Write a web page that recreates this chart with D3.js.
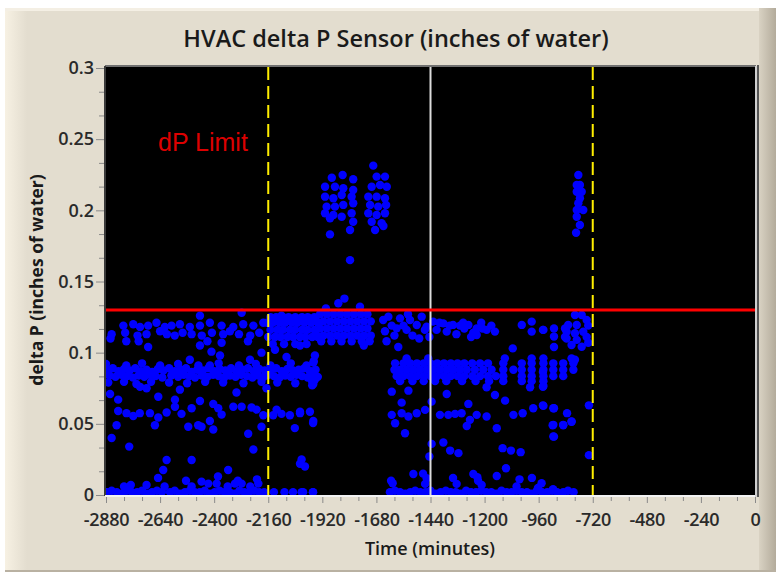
<!DOCTYPE html>
<html lang="en">
<head>
<meta charset="utf-8">
<title>HVAC delta P Sensor</title>
<script src="https://d3js.org/d3.v7.min.js"></script>
<style>
  body { margin: 0; background: #ffffff; }
  svg text { font-family: "Open Sans", "Liberation Sans", sans-serif; }
</style>
</head>
<body>
<script>
// ---- chart values ----
const xTicks = [-2880, -2640, -2400, -2160, -1920, -1680, -1440, -1200, -960, -720, -480, -240, 0];
const yTicks = [0, 0.05, 0.1, 0.15, 0.2, 0.25, 0.3];
const yTickLabels = ["0", "0.05", "0.1", "0.15", "0.2", "0.25", "0.3"];
const limitValue = 0.13;
const limitLabel = "dP Limit";
const dashedMarkers = [-2160, -720];
const solidMarkers = [-1440];

// readings near zero, west part (minutes, inches of water)
const westBase = [
  [-2875,.002],[-2855,.003],[-2832,.002],[-2810,.001],[-2788,.003],[-2765,.002],[-2742,.002],[-2720,.003],
  [-2698,.001],[-2676,.002],[-2654,.003],[-2632,.002],[-2596,.002],[-2575,.003],[-2552,.001],[-2530,.002],
  [-2508,.003],[-2486,.002],[-2464,.002],[-2442,.003],[-2420,.001],[-2398,.002],[-2376,.003],[-2354,.002],
  [-2332,.002],[-2310,.001],[-2288,.003],[-2266,.002],[-2244,.002],[-2222,.003],[-2200,.002],[-2178,.002],
  [-2135,.002],[-2088,.002],[-2050,.002],[-2005,.002],[-1962,.002],
  [-2800,.006],[-2770,.007],[-2700,.007],[-2649,.012],[-2620,.006],[-2525,.010],[-2500,.006],[-2456,.0094],
  [-2426,.008],[-2389,.008],[-2383,.013],[-2340,.006],[-2308,.008],[-2295,.010],[-2278,.008],[-2240,.006],
  [-2210,.011],[-2204,.008]
];
// steady band around 0.085, west part
const westMid = [
  [-2875,.0880],[-2850,.0890],[-2825,.0870],[-2800,.0885],[-2775,.0875],[-2750,.0890],[-2725,.0870],[-2700,.0880],
  [-2675,.0865],[-2650,.0885],[-2625,.0875],[-2600,.0890],[-2575,.0870],[-2550,.0880],[-2525,.0890],[-2500,.0865],
  [-2475,.0880],[-2450,.0875],[-2425,.0890],[-2400,.0870],[-2375,.0885],[-2350,.0875],[-2325,.0890],[-2300,.0870],
  [-2275,.0880],[-2250,.0890],[-2225,.0870],[-2200,.0885],[-2175,.0875],[-2150,.0880],[-2125,.0890],[-2100,.0870],
  [-2075,.0885],[-2050,.0875],[-2025,.0880],[-2000,.0890],[-1975,.0870],[-1950,.0880],
  [-2865,.0840],[-2838,.0830],[-2812,.0845],[-2785,.0835],[-2760,.0825],[-2735,.0840],[-2710,.0830],[-2685,.0845],
  [-2660,.0835],[-2630,.0825],[-2590,.0840],[-2560,.0830],[-2535,.0845],[-2510,.0835],[-2485,.0825],[-2455,.0840],
  [-2430,.0830],[-2405,.0845],[-2380,.0835],[-2355,.0825],[-2330,.0840],[-2305,.0830],[-2280,.0845],[-2255,.0835],
  [-2230,.0825],[-2205,.0840],[-2180,.0830],[-2160,.0845],[-2135,.0835],[-2110,.0825],[-2085,.0840],[-2060,.0830],
  [-2035,.0845],[-2010,.0835],[-1985,.0825],[-1960,.0840],[-1940,.0830],
  [-2880,.092],[-2790,.091],[-2720,.0925],[-2640,.091],[-2560,.092],[-2470,.091],[-2380,.0925],[-2290,.091],
  [-2215,.092],[-2150,.091],[-2060,.0925],[-1990,.091],
  [-2870,.079],[-2800,.0795],[-2745,.078],[-2680,.0795],[-2600,.079],[-2520,.0785],[-2440,.0795],[-2360,.079],
  [-2270,.0785],[-2190,.0795],[-2120,.079],[-2040,.0785],[-1965,.0795],
  [-2412,.1007],[-2190,.100],[-2374,.098],[-2508,.095],[-2241,.095],[-2079,.097],[-2419,.091],[-1960,.093],[-2130,.102]
];
// band around 0.115, west part
const westHigh = [
  [-2803,.119],[-2759,.120],[-2729,.118],[-2693,.119],[-2656,.121],[-2619,.118],[-2589,.119],[-2552,.120],
  [-2508,.118],[-2463,.119],[-2419,.121],[-2367,.119],[-2315,.118],[-2271,.120],[-2226,.119],[-2182,.121],
  [-2855,.113],[-2795,.114],[-2740,.112],[-2700,.113],[-2640,.115],[-2610,.113],[-2575,.112],[-2540,.114],
  [-2500,.113],[-2455,.112],[-2410,.114],[-2360,.113],[-2330,.115],[-2290,.113],[-2240,.112],[-2200,.114],
  [-2860,.110],[-2790,.108],[-2735,.108],[-2693,.104],[-2463,.105],[-2430,.108],[-2367,.107],[-2250,.108],
  [-2463,.126],[-2278,.128],[-2101,.126],
  [-2150,.125],[-2125,.125],[-2095,.125],[-2070,.125],[-2040,.125],[-2010,.125],[-1985,.125],[-1955,.125],
  [-2165,.121],[-2140,.121],[-2110,.121],[-2085,.121],[-2055,.121],[-2030,.121],[-2000,.121],[-1970,.121],[-1940,.121],
  [-2150,.116],[-2120,.116],[-2095,.116],[-2065,.116],[-2040,.116],[-2010,.116],[-1985,.116],[-1955,.116],
  [-2160,.111],[-2130,.111],[-2105,.111],[-2075,.111],[-2050,.111],[-2020,.111],[-1995,.111],[-1965,.111],[-1940,.111],
  [-2140,.106],[-2090,.106],[-2040,.106],[-1990,.106]
];
// scattered low readings, west part
const westScatter = [
  [-2862,.071],[-2826,.067],[-2648,.069],[-2574,.067],[-2463,.066],[-2404,.064],[-2301,.072],[-2168,.075],[-1960,.078],
  [-2729,.076],[-2700,.075],[-2552,.074],
  [-2826,.059],[-2789,.0575],[-2759,.0555],[-2730,.0575],[-2685,.0575],[-2648,.0545],[-2611,.058],[-2574,.062],
  [-2545,.057],[-2500,.061],[-2382,.061],[-2367,.0565],[-2315,.062],[-2278,.062],[-2234,.0615],[-2212,.060],
  [-2182,.056],[-2138,.056],[-2123,.060],[-2101,.057],[-2064,.056],[-2019,.0575],[-1975,.0585],
  [-2833,.049],[-2663,.049],[-2515,.048],[-2471,.049],[-2456,.048],[-2419,.052],[-2404,.046],[-2249,.043],
  [-2190,.048],[-2042,.047],[-1960,.052],
  [-2855,.040],[-2777,.034],[-2226,.032],[-2611,.0246],[-2500,.0246],[-2019,.022],[-1997,.020],[-2626,.0176],[-2338,.0176],
  [-1953,.098],[-1958,.094],[-1975,.087],[-1953,.081],[-1965,.077],
  [-2019,.0585],[-1961,.0505],[-2012,.025],[-2012,.002],[-1961,.002]
];
// dense block just under the limit, -1940 to -1700
const plateau = [
  [-1930,.127],[-1900,.127],[-1870,.127],[-1840,.127],[-1810,.127],[-1780,.127],[-1750,.127],[-1720,.127],
  [-1945,.122],[-1915,.122],[-1885,.122],[-1855,.122],[-1825,.122],[-1795,.122],[-1765,.122],[-1735,.122],[-1705,.122],
  [-1930,.117],[-1900,.117],[-1870,.117],[-1840,.117],[-1810,.117],[-1780,.117],[-1750,.117],[-1720,.117],
  [-1945,.112],[-1915,.112],[-1885,.112],[-1855,.112],[-1825,.112],[-1795,.112],[-1765,.112],[-1735,.112],[-1705,.112],
  [-1925,.108],[-1880,.108],[-1835,.108],[-1790,.108],[-1745,.108],[-1710,.108],
  [-1849,.1347],[-1822,.138],[-1753,.1323],[-1904,.131],[-2019,.105],[-1736,.105]
];
// peaks above the limit
const spikes = [
  [-1878,.2229],[-1830,.2248],[-1783,.2218],[-1908,.2166],[-1864,.2166],[-1827,.2155],[-1783,.2143],
  [-1908,.2096],[-1871,.2085],[-1834,.2108],[-1790,.2096],[-1901,.2026],[-1864,.2026],[-1827,.2038],[-1783,.205],
  [-1908,.198],[-1871,.1967],[-1834,.1955],[-1790,.198],[-1783,.192],[-1886,.1944],[-1797,.1862],[-1886,.1831],
  [-1797,.165],
  [-1694,.2314],[-1679,.2237],[-1642,.2237],[-1701,.2166],[-1664,.2178],[-1634,.2166],[-1716,.2096],[-1679,.2096],
  [-1642,.2085],[-1708,.2038],[-1672,.2026],[-1637,.2038],[-1716,.198],[-1679,.1967],[-1642,.198],[-1701,.192],
  [-1657,.191],[-1686,.1862],[-1649,.189],
  [-784,.2248],[-777,.2178],[-791,.2178],[-791,.2131],[-769,.2131],[-777,.2085],[-784,.205],[-791,.2002],
  [-762,.2002],[-791,.1955],[-777,.1897],[-794,.1843]
];
// readings near zero, east part
const eastBase = [
  [-1620,.002],[-1598,.003],[-1575,.002],[-1552,.001],[-1530,.002],[-1508,.003],[-1485,.002],[-1462,.002],
  [-1440,.003],[-1418,.001],[-1395,.002],[-1372,.003],[-1350,.002],[-1328,.002],[-1305,.001],[-1282,.003],
  [-1260,.002],[-1238,.002],[-1215,.003],[-1192,.002],[-1170,.002],[-1148,.001],[-1125,.003],[-1102,.002],
  [-1080,.002],[-1058,.003],[-1035,.002],[-1012,.002],[-990,.001],[-968,.003],[-945,.002],[-922,.002],
  [-900,.003],[-878,.002],[-851,.002],[-830,.003],[-805,.002],
  [-1615,.010],[-1608,.0083],[-1473,.015],[-1464,.0078],[-1340,.012],[-1324,.0078],[-1229,.010],[-1213,.0071],
  [-1058,.006],[-1045,.011],[-990,.012],[-947,.0083],[-963,.005],[-896,.004]
];
// steady band around 0.085, east part
const eastMid = [
  [-1597,.0925],[-1560,.0925],[-1530,.0925],[-1500,.0925],[-1470,.0925],[-1440,.0925],[-1410,.0925],[-1380,.0925],
  [-1350,.0925],[-1320,.0925],[-1290,.0925],[-1255,.0925],[-1220,.0925],[-1185,.0925],[-1117,.0925],[-1035,.0925],
  [-991,.0925],[-939,.0925],[-895,.0925],[-851,.0925],[-806,.0925],
  [-1600,.088],[-1575,.088],[-1546,.088],[-1516,.088],[-1487,.088],[-1457,.088],[-1427,.088],[-1398,.088],
  [-1368,.088],[-1339,.088],[-1309,.088],[-1279,.088],[-1243,.088],[-1206,.088],[-1169,.088],[-1117,.088],
  [-1072,.088],[-1035,.088],[-991,.088],[-939,.088],[-895,.088],[-851,.088],[-806,.088],
  [-1590,.0835],[-1560,.0835],[-1530,.0835],[-1500,.0835],[-1470,.0835],[-1440,.0835],[-1410,.0835],[-1380,.0835],
  [-1350,.0835],[-1320,.0835],[-1290,.0835],[-1255,.0835],[-1220,.0835],[-1185,.0835],[-1150,.0835],[-1117,.0835],
  [-1035,.0835],[-991,.0835],[-939,.0835],[-895,.0835],[-851,.0835],
  [-1575,.080],[-1520,.080],[-1470,.080],[-1420,.080],[-1370,.080],[-1300,.080],[-1240,.080],[-1180,.080],
  [-1117,.080],[-1035,.080],[-991,.080],[-939,.080],
  [-1546,.096],[-1450,.096],[-1110,.096],[-991,.096],[-939,.096],[-814,.096],[-941,.0865]
];
// band around 0.115, east part
const eastHigh = [
  [-1650,.123],[-1642,.115],[-1635,.108],[-1627,.1253],[-1612,.119],[-1600,.112],[-1590,.1171],[-1583,.104],
  [-1575,.1241],[-1560,.119],[-1546,.116],[-1540,.127],[-1531,.123],[-1520,.112],[-1501,.1194],[-1490,.110],
  [-1479,.1253],[-1465,.116],[-1457,.1183],[-1445,.111],[-1428,.1218],[-1413,.116],[-1400,.121],[-1383,.1206],
  [-1368,.1148],[-1355,.119],[-1340,.1195],[-1325,.113],[-1309,.119],[-1295,.121],[-1290,.117],[-1272,.1195],
  [-1260,.111],[-1250,.114],[-1235,.117],[-1235,.1124],[-1215,.121],[-1210,.117],[-1191,.116],[-1170,.119],
  [-1154,.1148],[-1075,.103],[-1035,.1195],[-991,.1218],[-991,.1148],[-939,.116],[-941,.116],
  [-892,.117],[-892,.1113],[-892,.104],[-843,.117],[-843,.111]
];
// cluster just before the -720 marker
const cluster790 = [
  [-799,.1265],[-769,.1265],[-747,.123],[-829,.1194],[-791,.1194],[-740,.119],[-836,.1147],[-799,.1136],
  [-762,.1147],[-836,.110],[-791,.109],[-747,.111],[-814,.1054],[-769,.1042],[-740,.107],[-799,.095]
];
// scattered low readings, east part
const eastScatter = [
  [-1612,.0726],[-1538,.0733],[-1368,.071],[-1191,.0757],[-1154,.0703],[-1109,.0663],[-998,.0757],[-939,.0766],
  [-1568,.0649],[-1435,.0656],[-1272,.064],
  [-1612,.0563],[-1568,.0574],[-1538,.0551],[-1501,.0574],[-1464,.0598],[-1398,.0563],[-1361,.0563],[-1331,.057],
  [-1302,.0574],[-1265,.0528],[-1235,.0563],[-1191,.0551],[-1072,.0563],[-1031,.0574],[-984,.0609],[-939,.0626],
  [-895,.0609],[-1597,.0504],[-1279,.0485],[-1146,.0469],[-895,.0493],[-851,.0493],[-814,.0516],
  [-1553,.0434],[-895,.0411],[-1435,.0359],[-1383,.0369],[-1353,.0312],[-1316,.0294],[-1445,.027],
  [-1120,.0329],[-1083,.0312],[-1040,.0301],
  [-1516,.0148],[-1250,.0148],[-1232,.0125],[-1146,.0134],[-1105,.0188],[-1457,.0118],
  [-941,.076],[-941,.063],[-892,.061],[-834,.0575],[-814,.0515],[-898,.049],[-851,.049],[-892,.041],
  [-737,.063],[-737,.028]
];

const allPoints = [].concat(westBase, westMid, westHigh, westScatter, plateau, spikes,
                            eastBase, eastMid, eastHigh, cluster790, eastScatter);

// ---- drawing ----
const W = 776, H = 575;
const plot = {left: 106, right: 755, top: 67, bottom: 495};

const x = d3.scaleLinear().domain([-2880, 0]).range([plot.left, plot.right]);
const y = d3.scaleLinear().domain([0, 0.3]).range([plot.bottom, plot.top + 1]);

const svg = d3.select("body").append("svg")
    .attr("width", W)
    .attr("height", H);

const defs = svg.append("defs");
const leftGrad = defs.append("linearGradient").attr("id", "leftEdge");
leftGrad.append("stop").attr("offset", "0%").attr("stop-color", "#f7f1e3");
leftGrad.append("stop").attr("offset", "100%").attr("stop-color", "#e3ddcf");
const rightGrad = defs.append("linearGradient").attr("id", "rightEdge");
rightGrad.append("stop").attr("offset", "0%").attr("stop-color", "#d9d2c3");
rightGrad.append("stop").attr("offset", "100%").attr("stop-color", "#b3ab9b");
defs.append("clipPath").attr("id", "plotClip")
  .append("rect")
    .attr("x", plot.left).attr("y", plot.top)
    .attr("width", plot.right - plot.left).attr("height", plot.bottom - plot.top + 1);

// panel
svg.append("rect").attr("width", W).attr("height", H).attr("fill", "#ffffff");
svg.append("rect").attr("x", 5).attr("y", 8).attr("width", 771).attr("height", 564).attr("fill", "#e3ddcf");
svg.append("rect").attr("x", 5).attr("y", 8).attr("width", 22).attr("height", 564).attr("fill", "url(#leftEdge)");
svg.append("rect").attr("x", 5).attr("y", 8).attr("width", 760).attr("height", 3).attr("fill", "#f4efe4");
svg.append("rect").attr("x", 759).attr("y", 8).attr("width", 17).attr("height", 564).attr("fill", "url(#rightEdge)");
svg.append("rect").attr("x", 5).attr("y", 570).attr("width", 771).attr("height", 2).attr("fill", "#b9b1a2");

// plot area
svg.append("rect")
    .attr("x", plot.left).attr("y", plot.top)
    .attr("width", plot.right - plot.left).attr("height", plot.bottom - plot.top)
    .attr("fill", "#000000");

// title and axis titles
svg.append("text")
    .attr("x", 396).attr("y", 47)
    .attr("text-anchor", "middle")
    .attr("font-size", 23.5).attr("font-weight", 600)
    .attr("fill", "#1a1a1a")
    .text("HVAC delta P Sensor (inches of water)");

svg.append("text")
    .attr("x", 430).attr("y", 555)
    .attr("text-anchor", "middle")
    .attr("font-size", 18).attr("font-weight", 600)
    .attr("fill", "#1a1a1a")
    .text("Time (minutes)");

svg.append("text")
    .attr("transform", "translate(43,280) rotate(-90)")
    .attr("text-anchor", "middle")
    .attr("font-size", 17.5).attr("font-weight", 700)
    .attr("fill", "#1a1a1a")
    .text("delta P (inches of water)");

// axes
const yMinor = d3.range(0, 0.3001, 0.05 / 3).filter((d, i) => i % 3 !== 0);
const xMinor = d3.range(-2880, 1, 80).filter(d => d % 240 !== 0);

svg.append("g")
    .attr("class", "y-axis")
    .attr("transform", `translate(${plot.left - 2},0)`)
    .call(d3.axisLeft(y).tickValues(yTicks).tickSize(8).tickPadding(2)
      .tickFormat((d, i) => yTickLabels[i]));
svg.append("g")
    .attr("transform", `translate(${plot.left - 2},0)`)
    .call(d3.axisLeft(y).tickValues(yMinor).tickSize(5).tickFormat(""));

svg.append("g")
    .attr("class", "x-axis")
    .attr("transform", `translate(0,${plot.bottom + 2})`)
    .call(d3.axisBottom(x).tickValues(xTicks).tickSize(6).tickPadding(10)
      .tickFormat(d => String(d)));
svg.append("g")
    .attr("transform", `translate(0,${plot.bottom + 2})`)
    .call(d3.axisBottom(x).tickValues(xMinor).tickSize(4).tickFormat(""));

svg.selectAll(".domain").remove();
svg.selectAll(".tick line").attr("stroke", "#8a8a8a");
svg.selectAll(".tick text")
    .attr("font-size", 18)
    .attr("font-weight", 600)
    .attr("fill", "#2a2a2a")
    .style("font-family", "'Open Sans', sans-serif");
// the x labels sit a little tighter than the default
svg.selectAll(".x-axis .tick text").attr("letter-spacing", "-0.3px");

// points
svg.append("g")
    .attr("clip-path", "url(#plotClip)")
  .selectAll("circle")
  .data(allPoints)
  .join("circle")
    .attr("cx", d => x(d[0]))
    .attr("cy", d => y(d[1]))
    .attr("r", 4.2)
    .attr("fill", "#0000ff");

// markers
svg.append("g").selectAll("line")
  .data(dashedMarkers)
  .join("line")
    .attr("x1", d => x(d)).attr("x2", d => x(d))
    .attr("y1", plot.top).attr("y2", plot.bottom)
    .attr("stroke", "#ffee00")
    .attr("stroke-width", 2)
    .attr("stroke-dasharray", "13,6");

svg.append("g").selectAll("line")
  .data(solidMarkers)
  .join("line")
    .attr("x1", d => x(d)).attr("x2", d => x(d))
    .attr("y1", plot.top).attr("y2", plot.bottom)
    .attr("stroke", "#dcdcdc")
    .attr("stroke-width", 2);

svg.append("line")
    .attr("x1", plot.left).attr("x2", plot.right)
    .attr("y1", y(limitValue)).attr("y2", y(limitValue))
    .attr("stroke", "#ff0000")
    .attr("stroke-width", 3);

svg.append("text")
    .attr("x", 158).attr("y", 151)
    .attr("font-size", 25)
    .attr("fill", "#dd0000")
    .style("font-family", "'Liberation Sans', Arial, sans-serif")
    .text(limitLabel);

// frame around plot
svg.append("line").attr("x1", plot.left - 1).attr("x2", plot.right + 1)
    .attr("y1", plot.top - 1).attr("y2", plot.top - 1)
    .attr("stroke", "#707070").attr("stroke-width", 2);
svg.append("line").attr("x1", plot.left - 1).attr("x2", plot.left - 1)
    .attr("y1", plot.top - 1).attr("y2", plot.bottom + 1)
    .attr("stroke", "#3a3a3a").attr("stroke-width", 2);
svg.append("line").attr("x1", plot.left - 1).attr("x2", plot.right + 1)
    .attr("y1", plot.bottom + 1).attr("y2", plot.bottom + 1)
    .attr("stroke", "#f2f2f2").attr("stroke-width", 2);
svg.append("line").attr("x1", plot.right + 1).attr("x2", plot.right + 1)
    .attr("y1", plot.top - 1).attr("y2", plot.bottom + 2)
    .attr("stroke", "#cfcfcf").attr("stroke-width", 2);
svg.append("line").attr("x1", plot.right + 3).attr("x2", plot.right + 3)
    .attr("y1", plot.top - 2).attr("y2", plot.bottom + 2)
    .attr("stroke", "#555555").attr("stroke-width", 2);
</script>
</body>
</html>
